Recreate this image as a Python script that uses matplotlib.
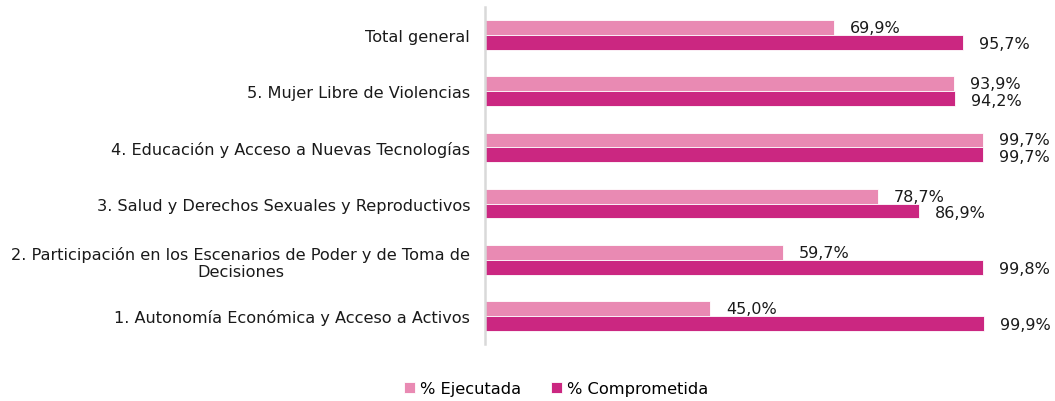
import matplotlib
matplotlib.use('Agg')
import numpy as np
from matplotlib import pyplot as plt

categorias = [
    '1. Autonomía Económica y Acceso a Activos',
    '2. Participación en los Escenarios de Poder y de Toma de\nDecisiones',
    '3. Salud y Derechos Sexuales y Reproductivos',
    '4. Educación y Acceso a Nuevas Tecnologías',
    '5. Mujer Libre de Violencias',
    'Total general',
]
ejecutada = [45.0, 59.7, 78.7, 99.7, 93.9, 69.9]
comprometida = [99.9, 99.8, 86.9, 99.7, 94.2, 95.7]

c_ejec = '#E98AB3'
c_comp = '#CB2781'

plt.rcParams['font.family'] = ['DejaVu Sans']
fig = plt.figure(figsize=(10.55, 4.02), dpi=100)
ax = fig.add_axes([0.46, 0.142, 0.525, 0.838])

y = np.arange(len(categorias))
h = 0.265
ax.barh(y + h / 2, ejecutada, height=h, color=c_ejec, edgecolor='white', linewidth=0.6, label='% Ejecutada')
ax.barh(y - h / 2, comprometida, height=h, color=c_comp, edgecolor='white', linewidth=0.6, label='% Comprometida')

def fmt(v):
    return f'{v:.1f}%'.replace('.', ',')

for yi, v in zip(y, ejecutada):
    ax.annotate(fmt(v), (v, yi + h / 2), xytext=(11.5, 0), textcoords='offset points',
                va='center', ha='left', fontsize=11.5, color='#1a1a1a')
for yi, v in zip(y, comprometida):
    ax.annotate(fmt(v), (v, yi - h / 2), xytext=(11.5, -1), textcoords='offset points',
                va='center', ha='left', fontsize=11.5, color='#1a1a1a')

ax.set_xlim(0, 111)
ax.set_ylim(-0.5, len(categorias) - 0.5)
ax.set_yticks(y)
ax.set_yticklabels(categorias, fontsize=11.6, color='#1a1a1a', multialignment='center')
ax.tick_params(axis='y', length=0, pad=11)
ax.set_xticks([])
for s in ['top', 'right', 'bottom']:
    ax.spines[s].set_visible(False)
ax.spines['left'].set_color('#D9D9D9')
ax.spines['left'].set_linewidth(1.8)

fig.legend(loc='center', bbox_to_anchor=(0.527, 0.03), ncol=2, frameon=False,
           fontsize=11.7, handlelength=0.7, handleheight=0.7, handletextpad=0.3,
           columnspacing=1.8)

fig.savefig('out.png', dpi=100)
